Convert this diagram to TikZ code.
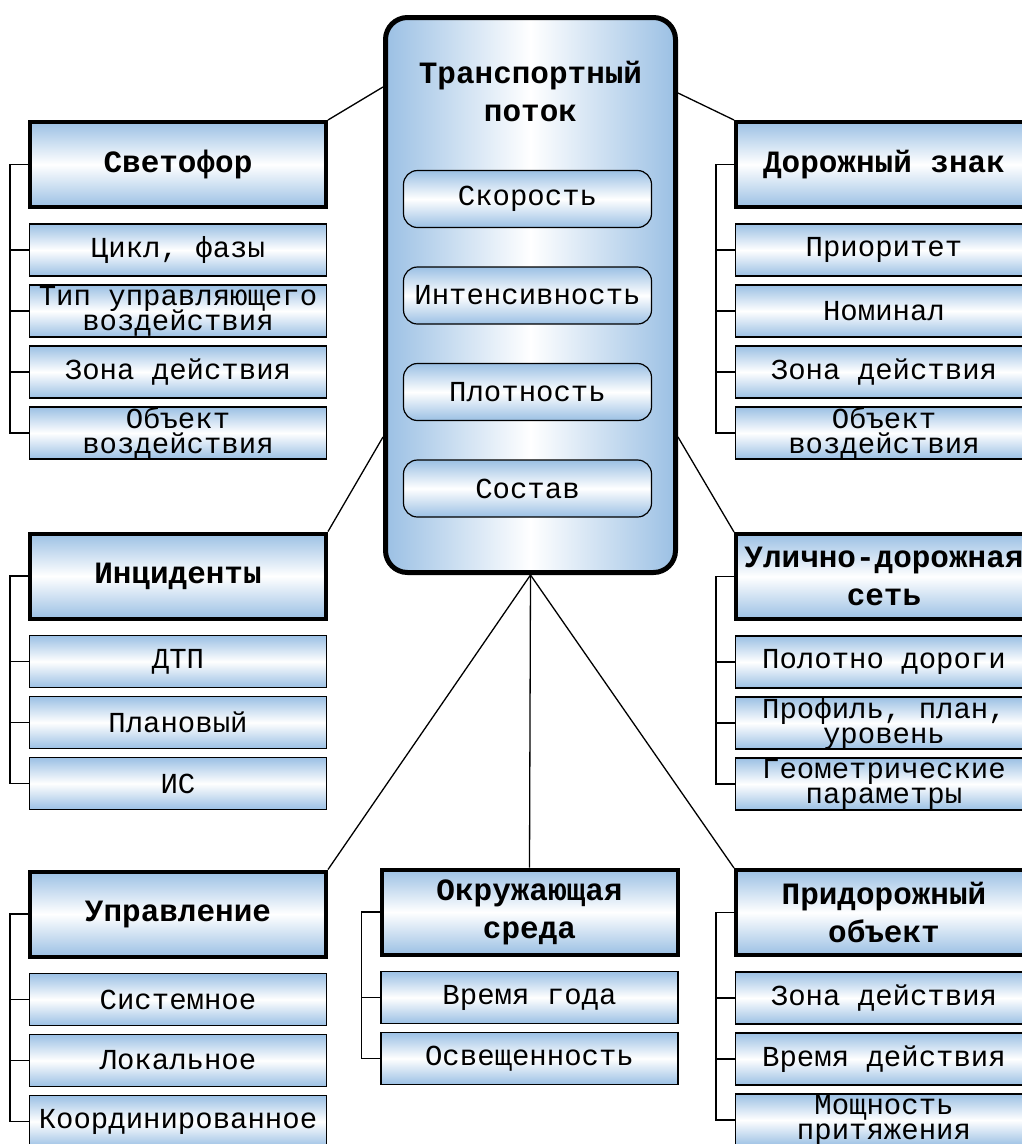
\documentclass[tikz,border=0pt]{standalone}
\usepackage{fontspec}
\setmainfont{Liberation Mono}
\usepackage{tikz}
\usetikzlibrary{positioning}
\usepackage{xcolor}
\definecolor{boxblue}{RGB}{155,192,228}
\newcommand{\itemfont}{\fontsize{29}{25}\selectfont\lineskiplimit -100pt\relax}

\begin{document}
\begin{tikzpicture}[
    x=1pt, y=-1pt,
    head/.style={rectangle, draw, line width=4pt, top color=boxblue, bottom color=boxblue, middle color=white, minimum width=296pt, minimum height=85pt, inner sep=0pt, align=center, font=\fontsize{31}{38}\selectfont\bfseries},
    item/.style={rectangle, draw, line width=1.5pt, top color=boxblue, bottom color=boxblue, middle color=white, minimum width=297pt, minimum height=52pt, inner sep=0pt, align=center, font=\itemfont},
    param/.style={rectangle, draw, line width=1.2pt, rounded corners=14pt, top color=boxblue, bottom color=boxblue, middle color=white, minimum width=248pt, minimum height=57pt, inner sep=0pt, align=center, font=\itemfont},
    link/.style={line width=1.3pt},
    on grid,
    node distance=61pt
]
    \useasboundingbox (0,0) rectangle (1022,1144);

    % Central block
    \node[rectangle, draw, line width=5pt, rounded corners=22pt, left color=boxblue, right color=boxblue, middle color=white, minimum width=290pt, minimum height=555pt] (tp) at (530.5,295) {};
    \node[align=center, font=\fontsize{31}{38}\selectfont\bfseries] (tptitle) at (530.5,91) {Транспортный\\поток};
    \node[param] (speed) at (527.5,199) {Скорость};
    \node[param, below=96.5pt of speed] (intens) {Интенсивность};
    \node[param, below=96.5pt of intens] (dens) {Плотность};
    \node[param, below=96.5pt of dens] (comp) {Состав};

    % Traffic light (left top)
    \node[head] (svet) at (178,164.5) {Светофор};
    \node[item, below=85.5pt of svet] (svet1) {Цикл, фазы};
    \node[item, below=of svet1] (svet2) {Тип управляющего\\воздействия};
    \node[item, below=of svet2] (svet3) {Зона действия};
    \node[item, below=of svet3] (svet4) {Объект\\воздействия};

    % Road sign (right top)
    \node[head] (znak) at (884,164.5) {Дорожный знак};
    \node[item, below=85.5pt of znak] (znak1) {Приоритет};
    \node[item, below=of znak1] (znak2) {Номинал};
    \node[item, below=of znak2] (znak3) {Зона действия};
    \node[item, below=of znak3] (znak4) {Объект\\воздействия};

    % Incidents (left middle)
    \node[head] (inc) at (178,576) {Инциденты};
    \node[item, below=85.5pt of inc] (inc1) {ДТП};
    \node[item, below=of inc1] (inc2) {Плановый};
    \node[item, below=of inc2] (inc3) {ИС};

    % Road network (right middle)
    \node[head] (udn) at (884,576.5) {Улично-дорожная\\сеть};
    \node[item, below=85.5pt of udn] (udn1) {Полотно дороги};
    \node[item, below=of udn1] (udn2) {Профиль, план,\\уровень};
    \node[item, below=of udn2] (udn3) {Геометрические\\параметры};

    % Control (left bottom)
    \node[head] (upr) at (178,914) {Управление};
    \node[item, below=85.5pt of upr] (upr1) {Системное};
    \node[item, below=of upr1] (upr2) {Локальное};
    \node[item, below=of upr2] (upr3) {Координированное};

    % Environment (middle bottom)
    \node[head] (sreda) at (529.5,912) {Окружающая\\среда};
    \node[item, below=85.5pt of sreda] (sreda1) {Время года};
    \node[item, below=of sreda1] (sreda2) {Освещенность};

    % Roadside object (right bottom)
    \node[head] (prid) at (884,912.5) {Придорожный\\объект};
    \node[item, below=85.5pt of prid] (prid1) {Зона действия};
    \node[item, below=of prid1] (prid2) {Время действия};
    \node[item, below=of prid2] (prid3) {Мощность\\притяжения};

    % Brackets
    \foreach \n in {svet1,svet2,svet3,svet4}
        \draw[link] (svet.west) -- ++(-18pt,0) |- (\n.west);
    \foreach \n in {znak1,znak2,znak3,znak4}
        \draw[link] (znak.west) -- ++(-18pt,0) |- (\n.west);
    \foreach \n in {inc1,inc2,inc3}
        \draw[link] (inc.west) -- ++(-18pt,0) |- (\n.west);
    \foreach \n in {udn1,udn2,udn3}
        \draw[link] (udn.west) -- ++(-18pt,0) |- (\n.west);
    \foreach \n in {upr1,upr2,upr3}
        \draw[link] (upr.west) -- ++(-18pt,0) |- (\n.west);
    \foreach \n in {sreda1,sreda2}
        \draw[link] (sreda.west) -- ++(-18pt,0) |- (\n.west);
    \foreach \n in {prid1,prid2,prid3}
        \draw[link] (prid.west) -- ++(-18pt,0) |- (\n.west);

    % Links from central block
    \draw[link] (tp.west |- 0,87) -- (svet.north east);
    \draw[link] (tp.east |- 0,93) -- (znak.north west);
    \draw[link] (tp.west |- 0,437) -- (inc.north east);
    \draw[link] (tp.east |- 0,437) -- (udn.north west);
    \draw[link] (tp.south) -- (upr.north east);
    \draw[link] (tp.south) -- (sreda.north);
    \draw[link] (tp.south) -- (prid.north west);

\end{tikzpicture}
\end{document}
